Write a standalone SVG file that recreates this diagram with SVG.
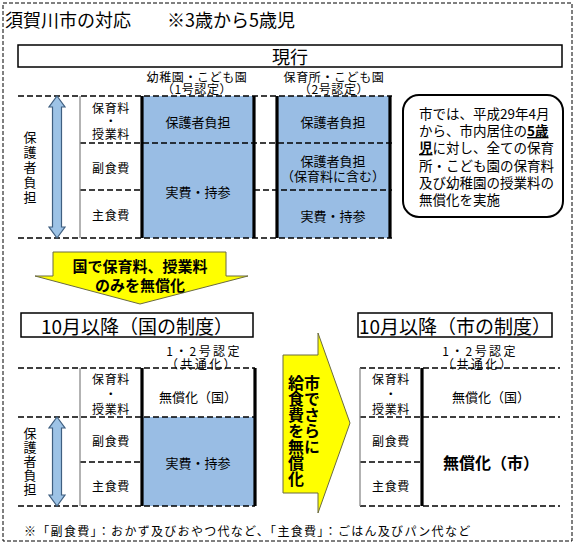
<svg xmlns="http://www.w3.org/2000/svg" width="579" height="546" viewBox="0 0 579 546">
<defs>
<style>
text{font-family:"Noto Sans CJK JP","Noto Sans",sans-serif;fill:#000}
.c,.c tspan{text-anchor:middle;dominant-baseline:central}
.v{writing-mode:vertical-rl;text-anchor:middle}
.s12{font-size:12px;letter-spacing:0.6px}
.s13{font-size:13px}
.w{letter-spacing:2.4px}
.b{font-weight:bold}
.dash{stroke:#000;stroke-width:1.6;stroke-dasharray:6 3;fill:none}
.thick{stroke:#000;stroke-width:3.2;fill:none}
.gray{stroke:#8a8a8a;stroke-width:1.3;fill:none}
.blue{fill:#99BDE4}
.box{fill:#fff;stroke:#000;stroke-width:1.5}
.yel{fill:#FFFF00;stroke:#6b6b40;stroke-width:1}
.dbl{fill:#9DC3E6;stroke:#3F5F80;stroke-width:1.2}
</style>
</defs>
<rect x="3" y="3" width="569" height="538" fill="#fff" stroke="#000" stroke-width="1" stroke-dasharray="4 2"/>

<g id="title">
<text x="5" y="27" style="font-size:18px">須賀川市の対応　　※3歳から5歳児</text>
</g>

<g id="current-header">
<rect class="box" x="18" y="45" width="544" height="22"/>
<text class="c" x="290" y="56" style="font-size:18px">現行</text>
<text class="c s12"><tspan x="197" y="76">幼稚園・こども園</tspan><tspan x="197" y="88">（1号認定）</tspan></text>
<text class="c s12"><tspan x="334" y="76">保育所・こども園</tspan><tspan x="334" y="88">（2号認定）</tspan></text>
</g>

<g id="current-table">
<rect class="blue" x="142" y="96" width="112" height="142"/>
<rect class="blue" x="277" y="96" width="113" height="142"/>
<line class="dash" x1="18" y1="96" x2="392" y2="96"/>
<line class="dash" x1="80" y1="143" x2="392" y2="143"/>
<line class="dash" x1="80" y1="190" x2="142" y2="190"/>
<line class="dash" x1="254" y1="190" x2="392" y2="190"/>
<line class="dash" x1="18" y1="238" x2="392" y2="238"/>
<line class="gray" x1="80" y1="96" x2="80" y2="238"/>
<line class="thick" x1="142" y1="96" x2="142" y2="238"/>
<line class="thick" x1="254" y1="96" x2="254" y2="238"/>
<line class="thick" x1="277" y1="96" x2="277" y2="238"/>
<line class="thick" x1="390" y1="96" x2="390" y2="238"/>
<path class="dbl" d="M57,96 L65,107 L61.5,107 L61.5,227 L65,227 L57,238 L49,227 L52.5,227 L52.5,107 L49,107 Z"/>
<text class="v s13" x="30" y="168" style="letter-spacing:2px">保護者負担</text>
<text class="c s12"><tspan x="111" y="107">保育料</tspan><tspan x="111" y="120">・</tspan><tspan x="111" y="133">授業料</tspan></text>
<text class="c s12" x="111" y="167">副食費</text>
<text class="c s12" x="111" y="214">主食費</text>
<text class="c s13" x="198" y="121">保護者負担</text>
<text class="c s13" x="198" y="191">実費・持参</text>
<text class="c s13" x="333" y="121">保護者負担</text>
<text class="c s13"><tspan x="333" y="160">保護者負担</tspan><tspan x="333" y="175">（保育料に含む）</tspan></text>
<text class="c s13" x="333" y="215">実費・持参</text>
</g>

<g id="callout">
<rect x="403" y="95" width="160" height="122" rx="16" ry="16" fill="#fff" stroke="#000" stroke-width="2"/>
<text style="font-size:13.5px" x="419">
<tspan x="419" y="119">市では、平成29年4月</tspan>
<tspan x="419" y="136">から、市内居住の<tspan font-weight="bold" text-decoration="underline">5歳</tspan></tspan>
<tspan x="419" y="153"><tspan font-weight="bold" text-decoration="underline">児</tspan>に対し、全ての保育</tspan>
<tspan x="419" y="171">所・こども園の保育料</tspan>
<tspan x="419" y="188">及び幼稚園の授業料の</tspan>
<tspan x="419" y="205">無償化を実施</tspan>
</text>
</g>

<g id="arrow-national">
<polygon class="yel" points="53,252 226,252 226,276 248,276 140,304 35,276 53,276"/>
<text class="c b" style="font-size:15px"><tspan x="140" y="265">国で保育料、授業料</tspan><tspan x="140" y="284">のみを無償化</tspan></text>
</g>

<g id="national-header">
<rect class="box" x="21" y="313" width="232" height="24"/>
<text class="c" x="137" y="325" style="font-size:19px">10月以降（国の制度）</text>
<text class="c s12 w"><tspan x="204" y="350">1・2号認定</tspan><tspan x="202" y="363">（共通化）</tspan></text>
</g>

<g id="national-table">
<rect class="blue" x="142" y="417" width="113" height="89"/>
<line class="dash" x1="18" y1="368" x2="255" y2="368"/>
<line class="dash" x1="18" y1="417" x2="255" y2="417"/>
<line class="dash" x1="80" y1="462" x2="142" y2="462"/>
<line class="dash" x1="18" y1="506" x2="255" y2="506"/>
<line class="gray" x1="80" y1="368" x2="80" y2="506"/>
<line class="thick" x1="142" y1="368" x2="142" y2="506"/>
<line class="thick" x1="255" y1="368" x2="255" y2="506"/>
<path class="dbl" d="M57,417 L65,428 L61.5,428 L61.5,495 L65,495 L57,506 L49,495 L52.5,495 L52.5,428 L49,428 Z"/>
<text class="v s13" x="30" y="462" style="letter-spacing:1px">保護者負担</text>
<text class="c s12"><tspan x="111" y="378">保育料</tspan><tspan x="111" y="393">・</tspan><tspan x="111" y="408">授業料</tspan></text>
<text class="c s12" x="111" y="440">副食費</text>
<text class="c s12" x="111" y="485">主食費</text>
<text class="c s13" x="198" y="396">無償化（国）</text>
<text class="c s13" x="198" y="462">実費・持参</text>
</g>

<g id="arrow-city">
<polygon class="yel" points="283,355 318,355 318,333 350,423 318,513 318,493 283,493"/>
<text class="v b" style="font-size:16px" x="312" y="415">市でさらに</text>
<text class="v b" style="font-size:16px" x="296" y="431">給食費を無償化</text>
</g>

<g id="city-header">
<rect class="box" x="358" y="313" width="194" height="24"/>
<text class="c" x="455" y="325" style="font-size:19px">10月以降（市の制度）</text>
<text class="c s12 w"><tspan x="480" y="350">1・2号認定</tspan><tspan x="478" y="363">（共通化）</tspan></text>
</g>

<g id="city-table">
<line class="dash" x1="360" y1="368" x2="560" y2="368"/>
<line class="dash" x1="360" y1="417" x2="560" y2="417"/>
<line class="dash" x1="360" y1="462" x2="422" y2="462"/>
<line class="dash" x1="360" y1="506" x2="560" y2="506"/>
<line class="gray" x1="360" y1="368" x2="360" y2="506"/>
<line class="thick" x1="422" y1="368" x2="422" y2="506"/>
<text class="c s12"><tspan x="391" y="378">保育料</tspan><tspan x="391" y="393">・</tspan><tspan x="391" y="408">授業料</tspan></text>
<text class="c s12" x="391" y="440">副食費</text>
<text class="c s12" x="391" y="485">主食費</text>
<text class="c s13" x="491" y="396">無償化（国）</text>
<text class="c b" style="font-size:16px" x="491" y="462">無償化（市）</text>
</g>

<g id="footnote">
<text class="s12" x="24" y="536" style="letter-spacing:1.3px">※「副食費」：おかず及びおやつ代など、「主食費」：ごはん及びパン代など</text>
</g>
</svg>
